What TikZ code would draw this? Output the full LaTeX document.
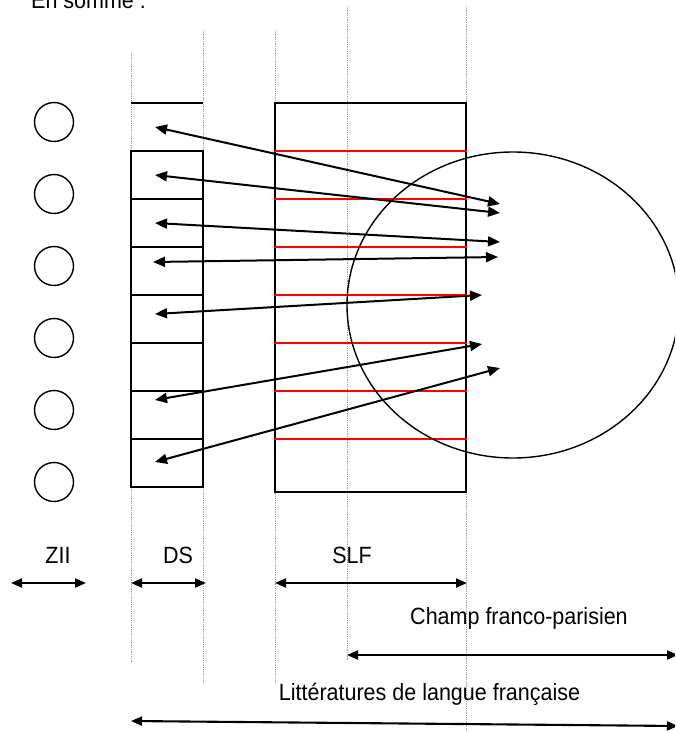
\documentclass[tikz,border=0pt]{standalone}
\usepackage{fontspec}
\setmainfont{Liberation Sans}
\usetikzlibrary{arrows.meta,shapes.geometric}
\begin{document}
\begin{tikzpicture}[x=1pt,y=-1pt,
  guide/.style={gray!75, densely dotted, line width=0.8pt},
  boxline/.style={black, line width=1.5pt},
  tier/.style={red, line width=1.8pt},
  link/.style={line width=2pt, {Triangle[length=12pt,width=10pt]}-{Triangle[length=12pt,width=10pt]}},
  extent/.style={line width=2.1pt, {Triangle[length=11pt,width=9pt]}-{Triangle[length=11pt,width=9pt]}},
  zone/.style={circle, draw, line width=1.4pt, minimum size=39pt, inner sep=0pt},
  cell/.style={draw, line width=1.5pt, minimum width=72pt, minimum height=48pt, inner sep=0pt},
  lbl/.style={font=\fontsize{23.5}{26}\selectfont, inner sep=0pt, anchor=base, xscale=0.915, transform shape},
]
\useasboundingbox (0,0) rectangle (675,731);
\clip (0,0) rectangle (675,731);

% vertical guide lines
\draw[guide] (131,53) -- (131,663);
\draw[guide] (203,30) -- (203,683);
\draw[guide] (275,30) -- (275,682);
\draw[guide] (347,6) -- (347,660);
\draw[guide] (466,6) -- (466,731);

% heading
\node[lbl, anchor=base west] (head) at (31,8) {En somme :};

% ZII circles
\foreach \i in {1,...,6} {
  \node[zone] (z\i) at (54,{122+72*(\i-1)}) {};
}

% DS column
\draw[boxline] (131,103) -- (203,103);
\foreach \i in {1,...,7} {
  \node[cell] (ds\i) at (167,{175+48*(\i-1)}) {};
}

% SLF column with its red strata
\node[draw, line width=1.5pt, minimum width=191pt, minimum height=389pt, inner sep=0pt] (slf) at (370.5,297.5) {};
\foreach \y in {151,199,247,295,343,391,439} {
  \draw[tier] (slf.west |- 0,\y) -- (slf.east |- 0,\y);
}

% franco-parisian field
\node[draw, ellipse, line width=1.4pt, minimum width=332pt, minimum height=306pt, inner sep=0pt] (fp) at (513,305) {};

% exchanges between the field and the DS cells
\coordinate (a1) at (155,127); \coordinate (b1) at (500,204);
\coordinate (a2) at (155,175); \coordinate (b2) at (500,213);
\coordinate (a3) at (155,223); \coordinate (b3) at (500,242);
\coordinate (a4) at (153,262); \coordinate (b4) at (498,257);
\coordinate (a5) at (155,314); \coordinate (b5) at (482,295);
\coordinate (a6) at (155,400); \coordinate (b6) at (482,344);
\coordinate (a7) at (155,462); \coordinate (b7) at (500,368);
\foreach \i in {1,...,7} {
  \draw[link] (a\i) -- (b\i);
}

% extents
\node[lbl] (zii) at (58,563) {ZII};
\node[lbl] (dsl) at (178,563) {DS};
\node[lbl] (slfl) at (352,563) {SLF};
\node[lbl] (champ) at (519,624) {Champ franco-parisien};
\node[lbl] (litt) at (429.5,700) {Littératures de langue française};

\coordinate (e1a) at (11,583);  \coordinate (e1b) at (86,583);
\coordinate (e2a) at (131,583); \coordinate (e2b) at (206,583);
\coordinate (e3a) at (275,583); \coordinate (e3b) at (467,583);
\coordinate (e4a) at (347,655); \coordinate (e4b) at (678,655);
\coordinate (e5a) at (131,721); \coordinate (e5b) at (678,726);
\foreach \i in {1,...,5} {
  \draw[extent] (e\i a) -- (e\i b);
}
\end{tikzpicture}
\end{document}
